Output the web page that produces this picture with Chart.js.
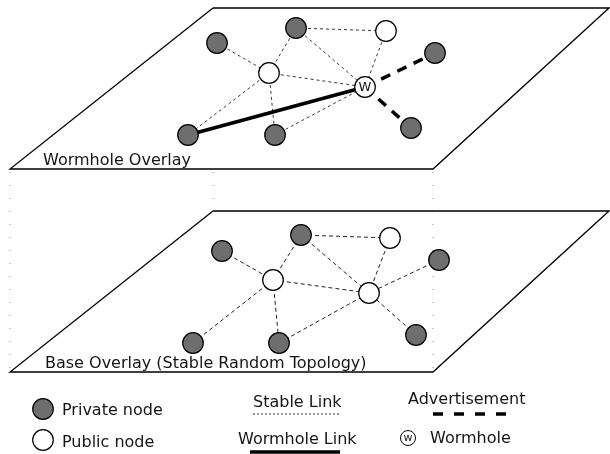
<!DOCTYPE html>
<html>
<head>
<meta charset="utf-8">
<script src="https://cdn.jsdelivr.net/npm/chart.js@4"></script>
<style>
  html, body { margin: 0; padding: 0; background: #fff; }
  #wrap { width: 610px; height: 454px; }
</style>
</head>
<body>
<div id="wrap"><canvas id="diagram" width="610" height="454"></canvas></div>
<script>
// node positions (x, y) for each overlay, kind: 'priv' | 'pub' | 'worm'
const topNodeX = [217, 296, 386, 435, 269, 365, 188, 275, 411];
const topNodeY = [43, 28, 31, 53, 73, 87, 135, 135, 128];
const topNodeKind = ['priv', 'priv', 'pub', 'priv', 'pub', 'worm', 'priv', 'priv', 'priv'];

const baseNodeX = [222, 301, 390, 439, 273, 369, 193, 279, 416];
const baseNodeY = [251, 235, 238, 260, 280, 293, 343, 343, 335];
const baseNodeKind = ['priv', 'priv', 'pub', 'priv', 'pub', 'pub', 'priv', 'priv', 'priv'];

// links as index pairs into the node lists
const baseLinks = [[0, 4], [1, 4], [1, 2], [1, 5], [2, 5], [4, 5], [4, 6], [4, 7], [7, 5], [3, 5], [8, 5]];
const topStableLinks = [[0, 4], [1, 4], [1, 2], [1, 5], [2, 5], [4, 5], [4, 6], [4, 7], [7, 5]];
const topWormholeLinks = [[6, 5]];
const topAdvertLinks = [[5, 3], [5, 8]];

// overlay planes (parallelograms)
const topPlaneX = [213, 609, 433, 10, 213];
const topPlaneY = [8, 8, 169, 169, 8];
const basePlaneX = [213, 609, 433, 10, 213];
const basePlaneY = [211, 211, 372, 372, 211];

// dotted guides between planes
const guideX = [10, 213, 433];
const guideTop = [172, 172, 172];
const guideBottom = [370, 209, 370];

// legend
const legendNodeX = [43, 43];
const legendNodeY = [409, 440];
const legendNodeKind = ['priv', 'pub'];
const legendStableX = [253, 340], legendStableY = [414, 414];
const legendWormX = [250, 340], legendWormY = [452, 452];
const legendAdvX = [433, 513], legendAdvY = [414, 414];

const labels = [
  { text: 'Wormhole Overlay', x: 43, y: 165 },
  { text: 'Base Overlay (Stable Random Topology)', x: 45, y: 368 },
  { text: 'Private node', x: 62, y: 415 },
  { text: 'Public node', x: 62, y: 447 },
  { text: 'Stable Link', x: 253, y: 407 },
  { text: 'Wormhole Link', x: 238, y: 444 },
  { text: 'Advertisement', x: 408, y: 404 },
  { text: 'Wormhole', x: 430, y: 443 }
];

function toPoints(xs, ys) {
  return xs.map((x, i) => ({ x: x, y: ys[i] }));
}

function linkPoints(links, xs, ys) {
  const pts = [];
  links.forEach(([a, b]) => {
    pts.push({ x: xs[a], y: ys[a] });
    pts.push({ x: xs[b], y: ys[b] });
    pts.push({ x: xs[b], y: null });
  });
  return pts;
}

function nodeFill(kind) {
  return kind === 'priv' ? '#6e6e6e' : '#ffffff';
}

function lineSet(data, opts) {
  return Object.assign({
    data: data,
    showLine: true,
    spanGaps: false,
    pointRadius: 0,
    borderColor: '#000',
    borderWidth: 1,
    fill: false,
    clip: false,
    order: 5
  }, opts);
}

function nodeSet(xs, ys, kinds, r) {
  return {
    data: toPoints(xs, ys),
    showLine: false,
    pointRadius: r,
    pointBackgroundColor: kinds.map(nodeFill),
    pointBorderColor: '#000',
    pointBorderWidth: 1.2,
    clip: false,
    order: 0
  };
}

const guideData = [];
guideX.forEach((x, i) => {
  guideData.push({ x: x, y: guideTop[i] });
  guideData.push({ x: x, y: guideBottom[i] });
  guideData.push({ x: x, y: null });
});

const textPlugin = {
  id: 'texts',
  afterDatasetsDraw(chart) {
    const { ctx, scales: { x, y } } = chart;
    ctx.save();
    ctx.fillStyle = '#151515';
    ctx.font = '16px "DejaVu Sans", sans-serif';
    ctx.textBaseline = 'alphabetic';
    ctx.textAlign = 'left';
    labels.forEach(l => ctx.fillText(l.text, x.getPixelForValue(l.x), y.getPixelForValue(l.y)));

    // W marker on the wormhole node
    const wi = topNodeKind.indexOf('worm');
    ctx.font = '13px "DejaVu Sans", sans-serif';
    ctx.textAlign = 'center';
    ctx.textBaseline = 'middle';
    ctx.fillText('W', x.getPixelForValue(topNodeX[wi]), y.getPixelForValue(topNodeY[wi]) + 1);

    // legend wormhole symbol
    const cx = x.getPixelForValue(408), cy = y.getPixelForValue(438);
    ctx.beginPath();
    ctx.arc(cx, cy, 7.5, 0, Math.PI * 2);
    ctx.strokeStyle = '#000';
    ctx.lineWidth = 1;
    ctx.stroke();
    ctx.font = '11px "DejaVu Sans", sans-serif';
    ctx.fillText('w', cx, cy);
    ctx.restore();
  }
};

new Chart(document.getElementById('diagram'), {
  type: 'scatter',
  data: {
    datasets: [
      lineSet(toPoints(topPlaneX, topPlaneY), { borderWidth: 1.3, order: 9 }),
      lineSet(toPoints(basePlaneX, basePlaneY), { borderWidth: 1.3, order: 9 }),
      lineSet(guideData, { borderColor: '#888', borderDash: [1, 12], order: 9 }),
      lineSet(linkPoints(baseLinks, baseNodeX, baseNodeY), { borderColor: '#222', borderWidth: 1, borderDash: [4, 3] }),
      lineSet(linkPoints(topStableLinks, topNodeX, topNodeY), { borderColor: '#222', borderWidth: 0.9, borderDash: [3, 3] }),
      lineSet(linkPoints(topWormholeLinks, topNodeX, topNodeY), { borderWidth: 3.5, order: 4 }),
      lineSet(linkPoints(topAdvertLinks, topNodeX, topNodeY), { borderWidth: 3.5, borderDash: [10, 8], order: 4 }),
      lineSet(toPoints(legendStableX, legendStableY), { borderColor: '#222', borderWidth: 0.9, borderDash: [2, 2] }),
      lineSet(toPoints(legendWormX, legendWormY), { borderWidth: 3.5 }),
      lineSet(toPoints(legendAdvX, legendAdvY), { borderWidth: 3.5, borderDash: [10, 11] }),
      nodeSet(topNodeX, topNodeY, topNodeKind, 10.3),
      nodeSet(baseNodeX, baseNodeY, baseNodeKind, 10.3),
      nodeSet(legendNodeX, legendNodeY, legendNodeKind, 10.3)
    ]
  },
  options: {
    responsive: false,
    animation: false,
    events: [],
    layout: { padding: 0, autoPadding: false },
    plugins: { legend: { display: false }, tooltip: { enabled: false } },
    scales: {
      x: { type: 'linear', min: 0, max: 610, display: false },
      y: { type: 'linear', min: 0, max: 454, reverse: true, display: false }
    }
  },
  plugins: [textPlugin]
});
</script>
</body>
</html>
